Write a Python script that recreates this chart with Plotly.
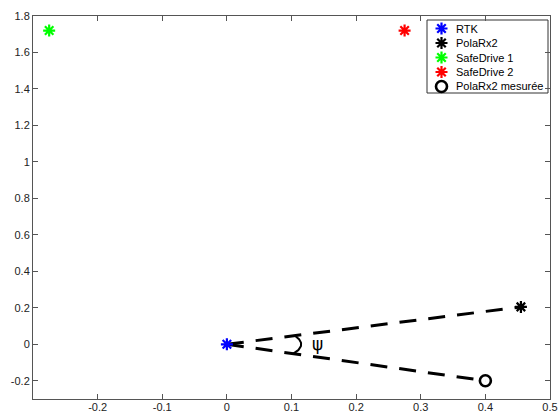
import numpy as np
import plotly.graph_objects as go

# Data
names = ["RTK", "PolaRx2", "SafeDrive 1", "SafeDrive 2"]
xs = [0.0, 0.455, -0.275, 0.275]
ys = [0.0, 0.205, 1.72, 1.72]
colors = ["#0000ff", "#000000", "#00ff00", "#ff0000"]
meas_name = "PolaRx2 mesurée"
meas_x = [0.40]
meas_y = [-0.20]
arc_radius = 0.115
x_ticks = [-0.2, -0.1, 0, 0.1, 0.2, 0.3, 0.4, 0.5]
y_ticks = [-0.2, 0, 0.2, 0.4, 0.6, 0.8, 1, 1.2, 1.4, 1.6, 1.8]

W, H = 560, 412
ML, MR, MT, MB = 33, 10, 16, 13
PW, PH = W - ML - MR, H - MT - MB

def px_x(p):
    return (p - ML) / PW

def px_y(p):
    return (H - MB - p) / PH

fig = go.Figure()

dash = "17px,12px"
fig.add_trace(go.Scatter(x=[xs[0], xs[1]], y=[ys[0], ys[1]], mode="lines",
                         line=dict(color="black", width=3, dash=dash),
                         showlegend=False, hoverinfo="skip"))
fig.add_trace(go.Scatter(x=[xs[0], meas_x[0]], y=[ys[0], meas_y[0]], mode="lines",
                         line=dict(color="black", width=3, dash=dash),
                         showlegend=False, hoverinfo="skip"))

# angle arc
a1 = np.arctan2(meas_y[0] - ys[0], meas_x[0] - xs[0])
a2 = np.arctan2(ys[1] - ys[0], xs[1] - xs[0])
th = np.linspace(a1, a2, 40)
fig.add_trace(go.Scatter(x=xs[0] + arc_radius * np.cos(th), y=ys[0] + arc_radius * np.sin(th),
                         mode="lines", line=dict(color="black", width=2),
                         showlegend=False, hoverinfo="skip"))

star = lambda c: dict(symbol="asterisk", size=10, color=c, line=dict(color=c, width=2.2))
ring = dict(symbol="circle-open", size=11, color="black", line=dict(color="black", width=2.6))

for n, x, y, c in zip(names, xs, ys, colors):
    fig.add_trace(go.Scatter(x=[x], y=[y], mode="markers", name=n, marker=star(c),
                             showlegend=False))
fig.add_trace(go.Scatter(x=meas_x, y=meas_y, mode="markers", name=meas_name,
                         marker=ring, showlegend=False))

fig.add_annotation(x=0.14, y=0.0, text="ψ", showarrow=False,
                   font=dict(family="DejaVu Sans", size=17, color="black"))

# custom compact legend (MATLAB style)
leg_labels = names + [meas_name]
leg_markers = [star(c) for c in colors] + [ring]
fig.add_shape(type="rect", xref="paper", yref="paper",
              x0=px_x(427), x1=px_x(548), y0=px_y(93), y1=px_y(20),
              line=dict(color="#333", width=1), fillcolor="white", layer="below")
for i, (lab, mk) in enumerate(zip(leg_labels, leg_markers)):
    yy = px_y(28.5 + 14.5 * i)
    fig.add_trace(go.Scatter(x=[px_x(441.5)], y=[yy], xaxis="x2", yaxis="y2",
                             mode="markers", marker=mk, showlegend=False,
                             hoverinfo="skip"))
    fig.add_annotation(xref="paper", yref="paper", x=px_x(454), y=yy, text=lab,
                       xanchor="left", yanchor="middle", showarrow=False,
                       font=dict(family="Liberation Sans", size=11, color="black"))

axis_common = dict(showline=True, linecolor="#555", linewidth=1, mirror="ticks",
                   ticks="inside", ticklen=5, tickcolor="#555", showgrid=False,
                   zeroline=False, automargin=False,
                   tickfont=dict(family="Liberation Sans", size=11, color="#222"))

fig.update_xaxes(range=[-0.3, 0.5], tickvals=x_ticks, ticklabelstandoff=-2,
                 ticktext=[f"{v:g}" for v in x_ticks], **axis_common)
fig.update_yaxes(range=[-0.3, 1.8], tickvals=y_ticks,
                 ticktext=[f"{v:g}" for v in y_ticks], **axis_common)

fig.update_layout(
    width=W, height=H,
    margin=dict(l=ML, r=MR, t=MT, b=MB, autoexpand=False),
    paper_bgcolor="white", plot_bgcolor="white",
    font=dict(family="Liberation Sans", size=11, color="black"),
    showlegend=False,
    xaxis2=dict(overlaying="x", range=[0, 1], visible=False, fixedrange=True),
    yaxis2=dict(overlaying="y", range=[0, 1], visible=False, fixedrange=True),
)

fig.write_html("out.html", config={"displayModeBar": False},
               post_script="document.body.style.margin='0';document.body.style.overflow='hidden';")
